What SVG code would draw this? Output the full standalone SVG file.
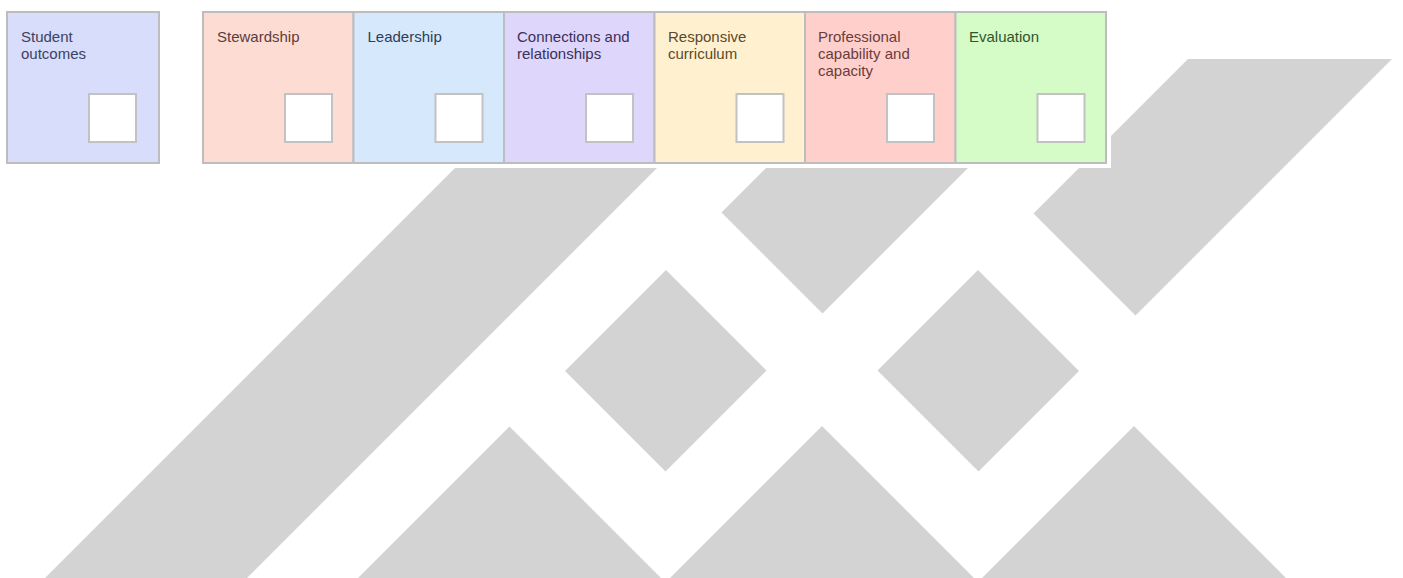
<svg xmlns="http://www.w3.org/2000/svg" width="1403" height="578" viewBox="0 0 1403 578">
<style>
.bg{fill:#d3d3d3}
.box{stroke:#bdbdbd;stroke-width:2}
.sq{fill:#ffffff;stroke:#c2c2c2;stroke-width:2}
.t{font-family:"Liberation Sans",Arial,Helvetica,sans-serif;font-size:15px}
</style>
<rect width="1403" height="578" fill="#ffffff"/>
<g id="background">
<polygon class="bg" points="455,168 657,168 247,578 45,578"/>
<polygon class="bg" points="766,168 968,168 822.5,313.5 721.5,212.5"/>
<polygon class="bg" points="1188,59 1392,59 1135.5,315.5 1033.5,213.5"/>
<polygon class="bg" points="666,270 766.5,370.5 665.5,471.5 565,371"/>
<polygon class="bg" points="978,270 1079,371 978.5,471.5 877.5,370.5"/>
<polygon class="bg" points="509.5,426.5 661,578 358,578"/>
<polygon class="bg" points="822,426 974,578 670,578"/>
<polygon class="bg" points="1134,426 1286,578 982,578"/>
<rect x="0" y="0" width="1111" height="168" fill="#ffffff"/>
</g>
<g id="connectors"/>
<g id="student-outcomes">
<rect class="box" x="7" y="12" width="152" height="151" fill="#d8ddfb"/>
<rect class="sq" x="89" y="94" width="47" height="48"/>
<text class="t" x="21" y="42" fill="#3b4262">Student</text>
<text class="t" x="21" y="59" fill="#3b4262">outcomes</text>
</g>
<g id="stewardship">
<rect class="box" x="203" y="12" width="150.5" height="151" fill="#fddcd4"/>
<rect class="sq" x="285" y="94" width="47" height="48"/>
<text class="t" x="217" y="42" fill="#5c3c3c">Stewardship</text>
</g>
<g id="leadership">
<rect class="box" x="353.5" y="12" width="150.5" height="151" fill="#d6e9fc"/>
<rect class="sq" x="435.5" y="94" width="47" height="48"/>
<text class="t" x="367.5" y="42" fill="#2d3e5a">Leadership</text>
</g>
<g id="connections">
<rect class="box" x="504" y="12" width="150.5" height="151" fill="#dfd6fb"/>
<rect class="sq" x="586" y="94" width="47" height="48"/>
<text class="t" x="517" y="42" fill="#3a3058">Connections and</text>
<text class="t" x="517" y="59" fill="#3a3058">relationships</text>
</g>
<g id="responsive-curriculum">
<rect class="box" x="654.5" y="12" width="150.5" height="151" fill="#fff1d0"/>
<rect class="sq" x="736.5" y="94" width="47" height="48"/>
<text class="t" x="668" y="42" fill="#5a4a2c">Responsive</text>
<text class="t" x="668" y="59" fill="#5a4a2c">curriculum</text>
</g>
<g id="professional-capability">
<rect class="box" x="805" y="12" width="150.5" height="151" fill="#ffd0cb"/>
<rect class="sq" x="887" y="94" width="47" height="48"/>
<text class="t" x="818" y="42" fill="#6a3c3c">Professional</text>
<text class="t" x="818" y="59" fill="#6a3c3c">capability and</text>
<text class="t" x="818" y="76" fill="#6a3c3c">capacity</text>
</g>
<g id="evaluation">
<rect class="box" x="955.5" y="12" width="150.5" height="151" fill="#d5fbc6"/>
<rect class="sq" x="1037.5" y="94" width="47" height="48"/>
<text class="t" x="969" y="42" fill="#2f552f">Evaluation</text>
</g>
</svg>
